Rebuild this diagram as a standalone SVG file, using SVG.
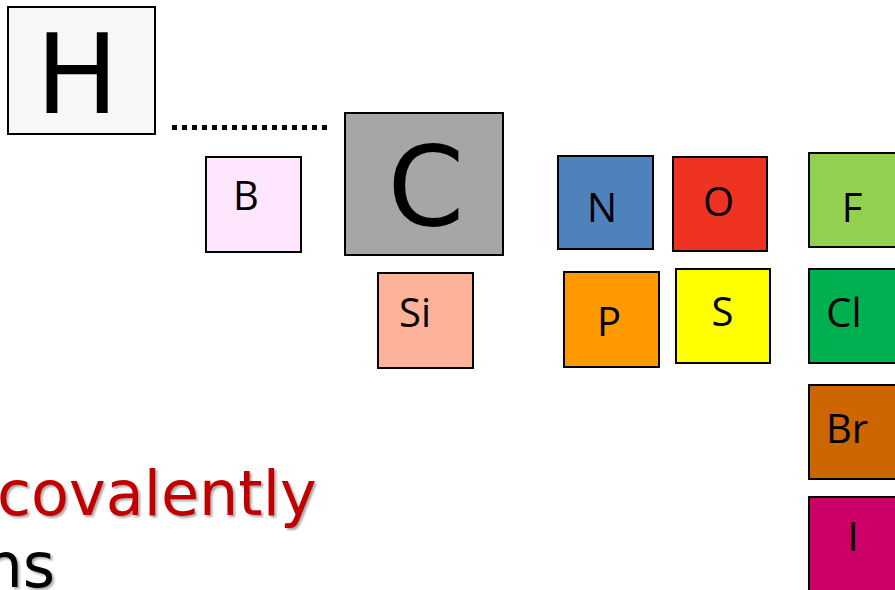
<svg xmlns="http://www.w3.org/2000/svg" width="895" height="590" viewBox="0 0 895 590">
  <style>
    .box { stroke: #000; stroke-width: 2; }
    .big { font-family: "DejaVu Sans", Verdana, sans-serif; font-size: 110px; fill: #000; text-anchor: middle; }
    .sym { font-family: "Open Sans", "DejaVu Sans", sans-serif; font-size: 40px; fill: #000; text-anchor: middle; }
    .body { font-family: "DejaVu Sans", Verdana, sans-serif; font-size: 62px; }
  </style>
  <defs>
    <filter id="shadow" x="-10%" y="-30%" width="120%" height="160%">
      <feDropShadow dx="2" dy="2" stdDeviation="1.2" flood-color="#000" flood-opacity="0.35"/>
    </filter>
  </defs>

  <!-- bond between H and C -->
  <g id="connectors">
    <line x1="172" y1="127.5" x2="330" y2="127.5" stroke="#000" stroke-width="5" stroke-dasharray="5 5"/>
  </g>

  <g id="H">
    <rect class="box" x="8" y="7" width="147" height="127" fill="#f7f7f7"/>
    <text class="big" x="77" y="113">H</text>
  </g>
  <g id="B">
    <rect class="box" x="206" y="157" width="95" height="95" fill="#ffe6ff"/>
    <text class="sym" x="246" y="210">B</text>
  </g>
  <g id="C">
    <rect class="box" x="345" y="113" width="158" height="142" fill="#a6a6a6"/>
    <text class="big" x="426" y="225">C</text>
  </g>
  <g id="Si">
    <rect class="box" x="378" y="273" width="95" height="95" fill="#ffb29a"/>
    <text class="sym" x="415" y="327">Si</text>
  </g>
  <g id="N">
    <rect class="box" x="558" y="156" width="95" height="93" fill="#4f81bd"/>
    <text class="sym" x="602" y="222">N</text>
  </g>
  <g id="O">
    <rect class="box" x="673" y="157" width="94" height="94" fill="#ee3322"/>
    <text class="sym" x="718.5" y="216">O</text>
  </g>
  <g id="F">
    <rect class="box" x="809" y="153" width="95" height="94" fill="#92d050"/>
    <text class="sym" x="852" y="222">F</text>
  </g>
  <g id="P">
    <rect class="box" x="564" y="272" width="95" height="95" fill="#ff9900"/>
    <text class="sym" x="609" y="336">P</text>
  </g>
  <g id="S">
    <rect class="box" x="676" y="269" width="94" height="94" fill="#ffff00"/>
    <text class="sym" x="722.5" y="326">S</text>
  </g>
  <g id="Cl">
    <rect class="box" x="809" y="269" width="95" height="94" fill="#00b050"/>
    <text class="sym" x="844" y="327">Cl</text>
  </g>
  <g id="Br">
    <rect class="box" x="809" y="385" width="95" height="94" fill="#cc6600"/>
    <text class="sym" x="847" y="443">Br</text>
  </g>
  <g id="I">
    <rect class="box" x="809" y="497" width="95" height="100" fill="#cc0066"/>
    <text class="sym" x="853" y="551">I</text>
  </g>

  <!-- caption text -->
  <text class="body" x="-3" y="515" fill="#c00000" filter="url(#shadow)">covalently</text>
  <text class="body" x="55" y="587" fill="#000" text-anchor="end" filter="url(#shadow)">ns</text>
</svg>
